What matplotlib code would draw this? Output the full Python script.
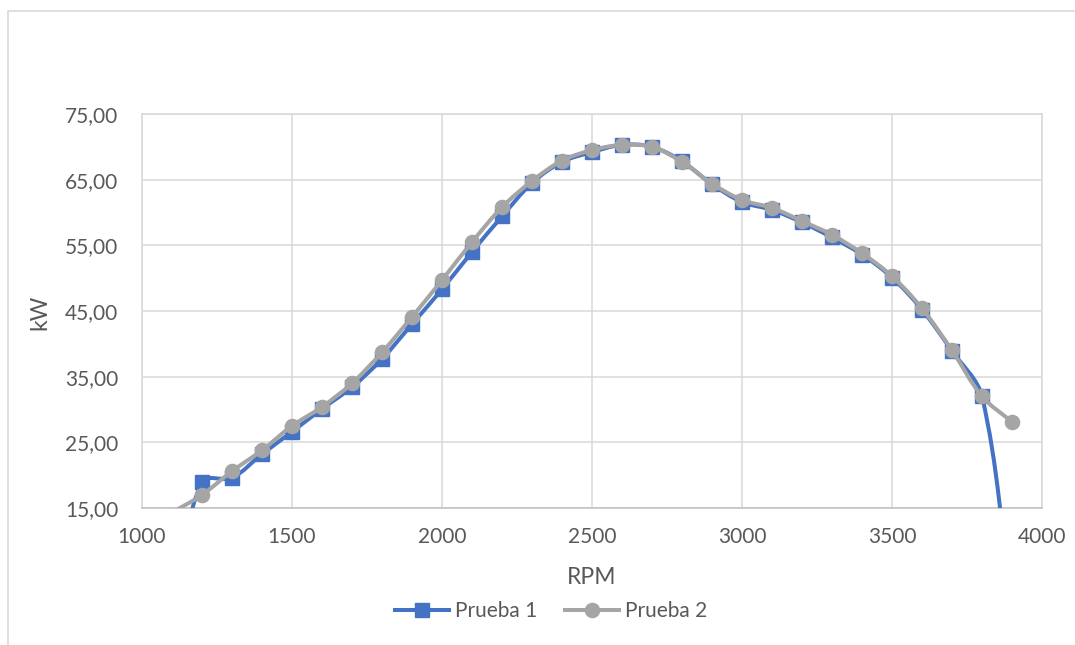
import numpy as np
import matplotlib
matplotlib.use("Agg")
import matplotlib.pyplot as plt
from matplotlib.path import Path
from matplotlib.patches import PathPatch, Rectangle
from matplotlib.lines import Line2D

plt.rcParams['font.family'] = ['Lato', 'DejaVu Sans']

# ---------------- data ----------------
rpm = [1100, 1200, 1300, 1400, 1500, 1600, 1700, 1800, 1900, 2000, 2100, 2200, 2300, 2400,
       2500, 2600, 2700, 2800, 2900, 3000, 3100, 3200, 3300, 3400, 3500, 3600, 3700, 3800, 3900]
prueba1 = [0.0, 19.0, 19.6, 23.2, 26.6, 30.1, 33.4, 37.7, 43.0, 48.3, 54.0, 59.4, 64.5, 67.7,
           69.2, 70.3, 70.0, 67.8, 64.3, 61.6, 60.4, 58.5, 56.2, 53.6, 50.1, 45.2, 38.9, 32.0, 0.0]
prueba2 = [14.3, 17.0, 20.6, 23.8, 27.5, 30.4, 34.0, 38.7, 44.1, 49.7, 55.5, 60.8, 64.8, 67.9,
           69.5, 70.3, 70.0, 67.7, 64.4, 61.9, 60.7, 58.7, 56.6, 53.8, 50.3, 45.4, 39.0, 32.0, 28.1]
series_names = ["Prueba 1", "Prueba 2"]
colors = ["#4472C4", "#A5A5A5"]
markers = ["s", "o"]
xticks = [1000, 1500, 2000, 2500, 3000, 3500, 4000]
yticks = [15, 25, 35, 45, 55, 65, 75]
xlim = (1000, 4000)
ylim = (15, 75)


def smooth_path(ax, x, y):
    """Excel-like smoothed line, computed in screen space with chord-length weighted tangents."""
    tr = ax.transData
    pts = tr.transform(np.column_stack([x, y]).astype(float))
    n = len(pts)
    verts = [pts[0]]
    codes = [Path.MOVETO]
    for i in range(n - 1):
        p0 = pts[i - 1] if i > 0 else pts[i]
        p1 = pts[i]
        p2 = pts[i + 1]
        p3 = pts[i + 2] if i + 2 < n else pts[i + 1]
        d01 = np.hypot(*(p1 - p0))
        d12 = np.hypot(*(p2 - p1))
        d23 = np.hypot(*(p3 - p2))
        f1 = d12 / (d01 + d12) / 3.0 if d01 + d12 > 0 else 0
        f2 = d12 / (d12 + d23) / 3.0 if d12 + d23 > 0 else 0
        c1 = p1 + (p2 - p0) * f1
        c2 = p2 - (p3 - p1) * f2
        verts += [c1, c2, p2]
        codes += [Path.CURVE4] * 3
    verts = tr.inverted().transform(np.array(verts))
    return Path(verts, codes)


W, H = 1075, 645
fig = plt.figure(figsize=(W / 100, H / 100), dpi=100)

# outer chart border (cut at right & bottom like the reference)
fig.patches.append(Rectangle((7.5 / W, -0.1), 1.2, 1 - 11 / H + 0.1, transform=fig.transFigure,
                             fill=False, edgecolor="#D9D9D9", linewidth=1.2))

ax = fig.add_axes([142 / W, 1 - 508 / H, 900 / W, 394 / H])
ax.set_xlim(*xlim)
ax.set_ylim(*ylim)
ax.set_xticks(xticks)
ax.set_yticks(yticks)
ax.set_yticklabels([f"{v:.2f}".replace(".", ",") for v in yticks])
ax.set_xticklabels([str(v) for v in xticks])
ax.grid(True, color="#D9D9D9", linewidth=1.1)
ax.set_axisbelow(True)
for s in ax.spines.values():
    s.set_color("#D9D9D9")
    s.set_linewidth(1.1)
ax.spines['bottom'].set_color("#BFBFBF")
ax.tick_params(length=0, labelsize=15, labelcolor="#595959")
ax.tick_params(axis='y', pad=17)
ax.tick_params(axis='x', pad=14)

handles = []
for k, (yy, name) in enumerate(zip([prueba1, prueba2], series_names)):
    path = smooth_path(ax, rpm, yy)
    patch = PathPatch(path, facecolor="none", edgecolor=colors[k], linewidth=2.9,
                      zorder=3 + 2 * k, capstyle="round", joinstyle="round")
    ax.add_patch(patch)
    yarr = np.array(yy)
    visible = list(np.where((yarr >= ylim[0]) & (yarr <= ylim[1]))[0])
    ms = 9.6 if markers[k] == "s" else 10.2
    ax.plot(rpm, yy, linestyle="none", marker=markers[k], markersize=ms,
            color=colors[k], markevery=visible, zorder=4 + 2 * k)
    handles.append(Line2D([], [], color=colors[k], linewidth=2.9, marker=markers[k], markersize=ms))

fig.text(592 / W, 1 - 578 / H, "RPM", ha="center", va="center", fontsize=16.5, color="#595959")
fig.text(40 / W, 1 - 312 / H, "kW", ha="center", va="center", fontsize=16.5, color="#595959",
         rotation=90)

leg = fig.legend(handles, series_names, loc="center", bbox_to_anchor=(551 / W, 1 - 611 / H),
                 ncol=2, frameon=False, fontsize=15, handlelength=2.6, handletextpad=0.3,
                 columnspacing=1.3, borderpad=0)
for t in leg.get_texts():
    t.set_color("#595959")

fig.savefig("out.png", dpi=100)
